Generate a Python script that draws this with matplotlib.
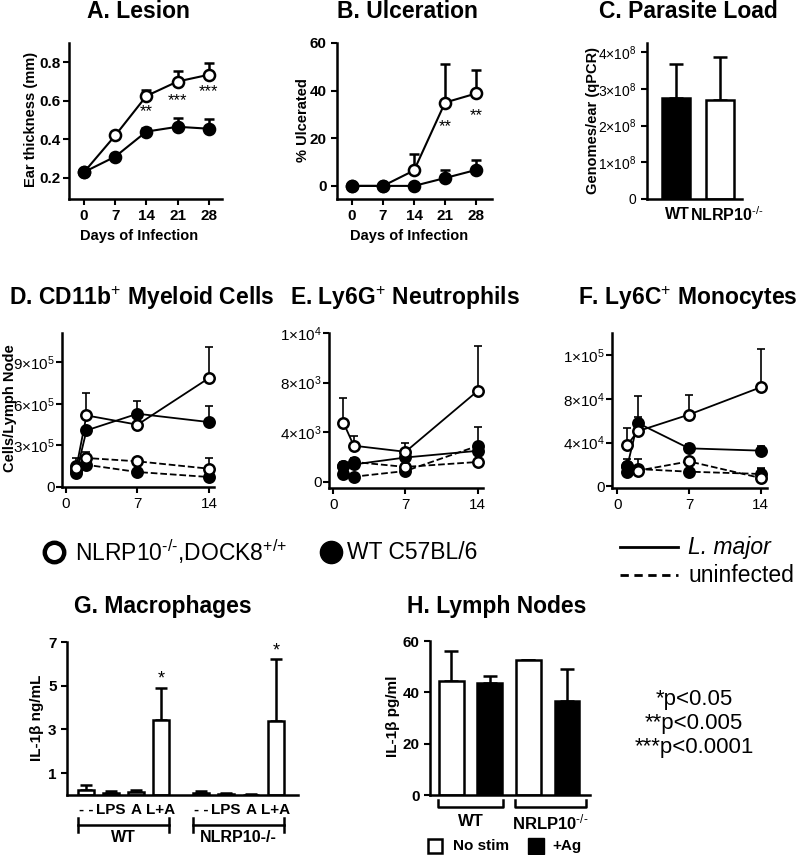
import matplotlib
matplotlib.use('Agg')
import matplotlib.pyplot as plt
import numpy as np
from matplotlib.transforms import blended_transform_factory as btf

plt.rcParams['font.family'] = ['Liberation Sans', 'DejaVu Sans']
plt.rcParams['mathtext.fontset'] = 'custom'
plt.rcParams['mathtext.rm'] = 'Liberation Sans'
plt.rcParams['mathtext.it'] = 'Liberation Sans:italic'
plt.rcParams['mathtext.bf'] = 'Liberation Sans:bold'

# ---------------- data ----------------
# A. Lesion
days_ab = [0, 7, 14, 21, 28]
lesion_ko = [0.23, 0.42, 0.625, 0.70, 0.735]
lesion_ko_err = [0, 0, 0.03, 0.055, 0.06]
lesion_wt = [0.23, 0.31, 0.44, 0.465, 0.455]
lesion_wt_err = [0, 0, 0.02, 0.045, 0.05]
lesion_sig = ['', '', '**', '***', '***']
lesion_sig_y = [0, 0, 0.545, 0.60, 0.645]
# B. Ulceration
ulcer_ko = [0, 0, 6.5, 35, 38.8]
ulcer_ko_err = [0, 0, 7, 16, 9.7]
ulcer_wt = [0, 0, 0, 3.3, 6.7]
ulcer_wt_err = [0, 0, 0, 3.2, 4.3]
ulcer_sig = ['', '', '', '**', '**']
ulcer_sig_y = [0, 0, 0, 25, 29.5]
# C. Parasite load
load_groups = ['WT', r'NLRP10$^{\text{-/-}}$']
load_vals = [2.745e8, 2.70e8]
load_err = [0.94e8, 1.16e8]
# D/E/F  (series: KO L.major, WT L.major, KO uninfected, WT uninfected)
days_def = [1, 2, 7, 14]
d_ko_lm = [1.37e5, 5.16e5, 4.49e5, 7.85e5]; d_ko_lm_err = [0, 1.64e5, 0, 2.25e5]
d_wt_lm = [1.0e5, 4.08e5, 5.28e5, 4.68e5];  d_wt_lm_err = [0, 0, 0.92e5, 1.18e5]
d_ko_un = [1.49e5, 2.09e5, 1.85e5, 1.32e5]; d_ko_un_err = [0.6e5, 0.46e5, 0, 0.77e5]
d_wt_un = [1.18e5, 1.6e5, 1.08e5, 0.72e5];  d_wt_un_err = [0, 0, 0, 0]

e_ko_lm = [4760, 2910, 2420, 7340]; e_ko_lm_err = [2000, 760, 710, 3600]
e_wt_lm = [1300, 1400, 1960, 2500]; e_wt_lm_err = [0, 0, 0, 0]
e_ko_un = [1280, 1600, 1200, 1600]; e_ko_un_err = [300, 300, 250, 0]
e_wt_un = [650, 410, 870, 2900];    e_wt_un_err = [0, 0, 0, 1500]

f_ko_lm = [37800, 50300, 65500, 90500]; f_ko_lm_err = [15200, 12700, 18300, 35000]
f_wt_lm = [18900, 57900, 34700, 32600]; f_wt_lm_err = [0, 24300, 4000, 4600]
f_ko_un = [18900, 14300, 22800, 7600];  f_ko_un_err = [6100, 10700, 0, 8000]
f_wt_un = [13400, 15800, 13400, 11300]; f_wt_un_err = [0, 0, 0, 5500]

# G. Macrophages
g_labels = ['- -', 'LPS', 'A', 'L+A', '- -', 'LPS', 'A', 'L+A']
g_pos = [0, 1, 2, 3, 4.6, 5.6, 6.6, 7.6]
g_vals = [0.25, 0.10, 0.12, 3.45, 0.07, 0.03, 0.01, 3.40]
g_err = [0.20, 0.10, 0.10, 1.45, 0.10, 0.04, 0.02, 2.80]
g_sig = ['', '', '', '*', '', '', '', '*']
g_sig_y = [0, 0, 0, 5.3, 0, 0, 0, 6.6]
g_groups = ['WT', 'NLRP10-/-']
# H. Lymph nodes
h_vals = [44.5, 43.8, 52.5, 36.8]
h_err = [11.5, 2.7, 0, 12.2]
h_fill = ['white', 'black', 'white', 'black']
h_groups = ['WT', r'NRLP10$^{\text{-/-}}$']

# ---------------- layout helpers ----------------
W, H = 800, 855
fig = plt.figure(figsize=(W / 100, H / 100), dpi=100)

def ax_at(l, t, r, b):
    ax = fig.add_axes([l / W, 1 - b / H, (r - l) / W, (b - t) / H])
    for s in ['top', 'right']:
        ax.spines[s].set_visible(False)
    for s in ['left', 'bottom']:
        ax.spines[s].set_linewidth(1.8)
    ax.tick_params(direction='out', length=4, width=1.5, labelsize=11)
    return ax

ov = fig.add_axes([0, 0, 1, 1], zorder=-1)
ov.set_xlim(0, W); ov.set_ylim(H, 0); ov.axis('off')

def ftext(x, y, s, **kw):
    ov.text(x, y, s, **kw)

def series(ax, x, y, err, filled, ls='-', ms=7.5, lw=1.3, elw=1.3, cap=3.5):
    ax.errorbar(x, y, yerr=[np.zeros(len(err)), err], fmt='none', ecolor='k',
                elinewidth=elw, capsize=cap, capthick=elw, zorder=2, clip_on=False)
    ax.plot(x, y, ls=ls, color='k', lw=lw, marker='o', ms=ms,
            mfc='k' if filled else 'white', mec='k', mew=1.8, zorder=3, clip_on=False)

def bold_ticks(ax):
    for lab in ax.get_xticklabels() + ax.get_yticklabels():
        lab.set_fontweight('bold')

TFS = 16.5
# ---------------- A ----------------
ax = ax_at(69, 43, 222, 199)
series(ax, days_ab, lesion_ko, lesion_ko_err, False, lw=1.5, elw=1.8, ms=8)
series(ax, days_ab, lesion_wt, lesion_wt_err, True, lw=1.5, elw=1.8, ms=8)
for x, s, y in zip(days_ab, lesion_sig, lesion_sig_y):
    if s:
        ax.text(x, y, s, ha='center', va='center', fontsize=12)
ax.set_xlim(-3.4, 31); ax.set_ylim(0.09, 0.9)
ax.set_xticks(days_ab); ax.set_yticks([0.2, 0.4, 0.6, 0.8])
ax.yaxis.set_major_formatter(matplotlib.ticker.FormatStrFormatter('%.1f'))
ax.tick_params(axis='y', pad=2)
bold_ticks(ax)
ftext(138, 12, 'A. Lesion', ha='center', va='center', fontsize=TFS, fontweight='bold')
ftext(139, 236, 'Days of Infection', ha='center', va='center', fontsize=10.5, fontweight='bold')
ftext(31, 119, 'Ear thickness (mm)', ha='center', va='center', rotation=90, fontsize=10.5, fontweight='bold')

# ---------------- B ----------------
ax = ax_at(337, 43, 492, 199)
series(ax, days_ab, ulcer_ko, ulcer_ko_err, False, lw=1.5, elw=1.8, ms=8)
series(ax, days_ab, ulcer_wt, ulcer_wt_err, True, lw=1.5, elw=1.8, ms=8)
for x, s, y in zip(days_ab, ulcer_sig, ulcer_sig_y):
    if s:
        ax.text(x, y, s, ha='center', va='center', fontsize=12)
ax.set_xlim(-3.4, 31.6); ax.set_ylim(-5.5, 60)
ax.set_xticks(days_ab); ax.set_yticks([0, 20, 40, 60])
bold_ticks(ax)
ftext(407, 12, 'B. Ulceration', ha='center', va='center', fontsize=TFS, fontweight='bold')
ftext(409, 236, 'Days of Infection', ha='center', va='center', fontsize=10.5, fontweight='bold')
ftext(303, 120, '% Ulcerated', ha='center', va='center', rotation=90, fontsize=10.5, fontweight='bold')

# ---------------- C ----------------
ax = ax_at(647, 43, 742, 199)
ax.bar([0, 1], load_vals, width=0.64, color=['black', 'white'], edgecolor='black', lw=1.8, zorder=2)
ax.errorbar([0, 1], load_vals, yerr=[[0, 0], load_err], fmt='none', ecolor='k',
            elinewidth=1.8, capsize=5, capthick=1.8, zorder=1)
ax.set_xlim(-0.66, 1.5); ax.set_ylim(0, 4.25e8)
ax.set_xticks([])
ax.set_yticks([0, 1e8, 2e8, 3e8, 4e8],
              ['0'] + [r'$%d{\times}10^{8}$' % k for k in [1, 2, 3, 4]], fontsize=10)
trc = btf(ax.transData, ax.transAxes)
ax.text(0.32, -0.1, load_groups[0], transform=trc, ha='right', va='center', fontsize=11.5, fontweight='bold')
ax.text(0.32, -0.1, load_groups[1], transform=trc, ha='left', va='center', fontsize=11.5, fontweight='bold')
ftext(688, 12, 'C. Parasite Load', ha='center', va='center', fontsize=TFS, fontweight='bold')
ftext(593, 120, 'Genomes/ear (qPCR)', ha='center', va='center', rotation=90, fontsize=10.5, fontweight='bold')

# ---------------- D/E/F ----------------
def lymph_panel(box, ko_lm, ko_lm_e, wt_lm, wt_lm_e, ko_un, ko_un_e, wt_un, wt_un_e,
                xlim, ylim, yt, ytl):
    ax = ax_at(*box)
    kw = dict(ms=7.5, lw=1.3, elw=1.2, cap=3)
    series(ax, days_def, wt_un, wt_un_e, True, ls='--', **kw)
    series(ax, days_def, ko_un, ko_un_e, False, ls='--', **kw)
    series(ax, days_def, wt_lm, wt_lm_e, True, **kw)
    series(ax, days_def, ko_lm, ko_lm_e, False, **kw)
    ax.set_xlim(*xlim); ax.set_ylim(*ylim)
    ax.set_xticks([0, 7, 14])
    ax.set_yticks(yt, ytl, fontsize=11)
    ax.tick_params(axis='y', pad=1)
    return ax

lymph_panel((62, 333, 214, 487), d_ko_lm, d_ko_lm_err, d_wt_lm, d_wt_lm_err,
            d_ko_un, d_ko_un_err, d_wt_un, d_wt_un_err,
            (-0.4, 14.5), (0, 1.11e6), [0, 3e5, 6e5, 9e5],
            ['0', r'$3{\times}10^{5}$', r'$6{\times}10^{5}$', r'$9{\times}10^{5}$'])
lymph_panel((329, 333, 483, 488), e_ko_lm, e_ko_lm_err, e_wt_lm, e_wt_lm_err,
            e_ko_un, e_ko_un_err, e_wt_un, e_wt_un_err,
            (-0.4, 14.5), (-500, 12000), [0, 4000, 8000, 12000],
            ['0', r'$4{\times}10^{3}$', r'$8{\times}10^{3}$', r'$1{\times}10^{4}$'])
lymph_panel((612, 333, 767, 488), f_ko_lm, f_ko_lm_err, f_wt_lm, f_wt_lm_err,
            f_ko_un, f_ko_un_err, f_wt_un, f_wt_un_err,
            (-0.5, 14.6), (-1500, 1.4e5), [0, 4e4, 8e4, 1.2e5],
            ['0', r'$4{\times}10^{4}$', r'$8{\times}10^{4}$', r'$1{\times}10^{5}$'])
ftext(142, 298, r'D. CD11b$^{+}$ Myeloid Cells', ha='center', va='center', fontsize=TFS, fontweight='bold')
ftext(405, 298, r'E. Ly6G$^{+}$ Neutrophils', ha='center', va='center', fontsize=TFS, fontweight='bold')
ftext(688, 298, r'F. Ly6C$^{+}$ Monocytes', ha='center', va='center', fontsize=TFS, fontweight='bold')
ftext(10, 408, 'Cells/Lymph Node', ha='center', va='center', rotation=90, fontsize=10.5, fontweight='bold')

# legend row
ov.plot([54], [552], marker='o', ms=14, mfc='white', mec='black', mew=3.2, ls='none')
ov.plot([331], [552], marker='o', ms=16, mfc='black', mec='black', ls='none')
ftext(75, 552, r'NLRP10$^{\text{-/-}}$,DOCK8$^{\text{+/+}}$', ha='left', va='center', fontsize=16.5)
ftext(347, 552, 'WT C57BL/6', ha='left', va='center', fontsize=16.5)
ov.plot([620, 678], [547, 547], color='black', lw=2)
ov.plot([620, 678], [575, 575], color='black', lw=2, ls=(0, (3, 2)))
ftext(688, 547, 'L. major', ha='left', va='center', fontsize=16.5, style='italic')
ftext(688, 575, 'uninfected', ha='left', va='center', fontsize=16.5)

# ---------------- G ----------------
ax = ax_at(67, 642, 298, 795)
ax.bar(g_pos, g_vals, width=0.65, color='white', edgecolor='black', lw=1.8, zorder=2)
ax.errorbar(g_pos, g_vals, yerr=[np.zeros(len(g_err)), g_err], fmt='none', ecolor='k',
            elinewidth=1.8, capsize=4, capthick=1.8, zorder=1)
for x, s, y in zip(g_pos, g_sig, g_sig_y):
    if s:
        ax.text(x, y, s, ha='center', va='center', fontsize=13)
ax.set_xlim(-0.76, 8.48); ax.set_ylim(0, 7)
ax.set_yticks([1, 3, 5, 7]); bold_ticks(ax)
ax.set_xticks([])
tr = btf(ax.transData, ax.transAxes)
for x, s in zip(g_pos, g_labels):
    ax.text(x, -0.1, s, transform=tr, ha='center', va='center', fontsize=11, fontweight='bold')
for (x0, x1), s in zip([(g_pos[0], g_pos[3]), (g_pos[4], g_pos[7])], g_groups):
    ax.plot([x0 - 0.32, x1 + 0.32], [-0.196, -0.196], color='k', lw=1.8, transform=tr, clip_on=False)
    for xx in (x0 - 0.32, x1 + 0.32):
        ax.plot([xx, xx], [-0.15, -0.24], color='k', lw=1.8, transform=tr, clip_on=False)
    ax.text((x0 + x1) / 2, -0.28, s, transform=tr, ha='center', va='center', fontsize=11.5, fontweight='bold')
ftext(163, 606, 'G. Macrophages', ha='center', va='center', fontsize=TFS, fontweight='bold')
ftext(37, 718, 'IL-1β ng/mL', ha='center', va='center', rotation=90, fontsize=11, fontweight='bold')

# ---------------- H ----------------
ax = ax_at(430, 641, 590, 795)
hx = [0, 1, 2, 3]
ax.bar(hx, h_vals, width=0.64, color=h_fill, edgecolor='black', lw=1.8, zorder=2)
ax.errorbar(hx, h_vals, yerr=[np.zeros(4), h_err], fmt='none', ecolor='k',
            elinewidth=1.8, capsize=5, capthick=1.8, zorder=1)
ax.set_xlim(-0.55, 3.6); ax.set_ylim(0, 60)
ax.set_yticks([0, 20, 40, 60]); bold_ticks(ax)
ax.set_xticks([])
tr = btf(ax.transData, ax.transAxes)
for (x0, x1), s in zip([(0, 1), (2, 3.15)], h_groups):
    ax.plot([x0 - 0.35, x0 - 0.35, x1 + 0.35, x1 + 0.35], [-0.03, -0.08, -0.08, -0.03],
            color='k', lw=1.8, transform=tr, clip_on=False)
    ax.text((x0 + x1) / 2, -0.175, s, transform=tr, ha='center', va='center', fontsize=12, fontweight='bold')
ftext(497, 606, 'H. Lymph Nodes', ha='center', va='center', fontsize=TFS, fontweight='bold')
ftext(393, 716, 'IL-1β pg/ml', ha='center', va='center', rotation=90, fontsize=11, fontweight='bold')
ov.plot([435], [846], marker='s', ms=10, mfc='white', mec='black', mew=1.8, ls='none')
ov.plot([536], [846], marker='s', ms=11, mfc='black', mec='black', ls='none')
ftext(453, 846, 'No stim', ha='left', va='center', fontsize=11, fontweight='bold')
ftext(552, 846, '+Ag', ha='left', va='center', fontsize=11, fontweight='bold')

# p-values
for y, s in zip([699, 723, 747], ['*p<0.05', '**p<0.005', '***p<0.0001']):
    ftext(694, y, s, ha='center', va='center', fontsize=16)

fig.savefig('out.png', dpi=100)
